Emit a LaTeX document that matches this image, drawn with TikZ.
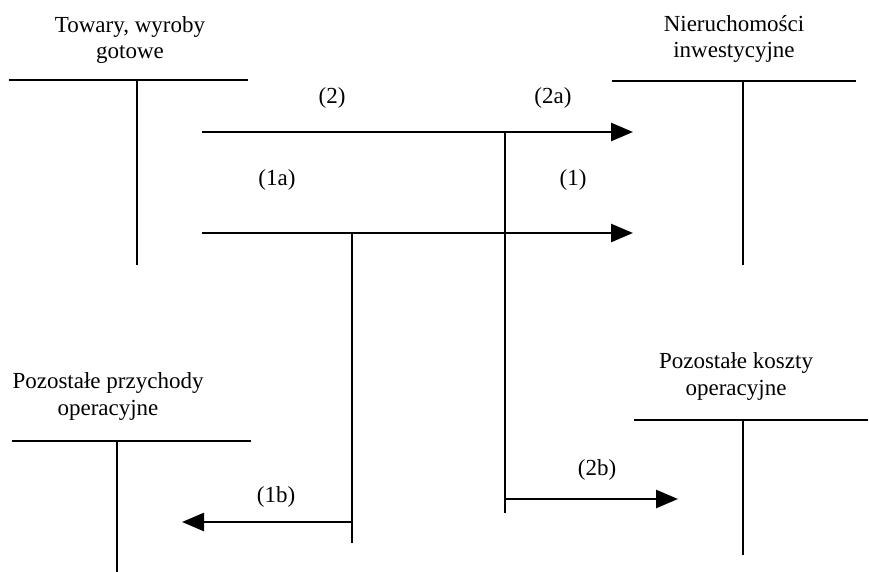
\documentclass[tikz,border=0pt]{standalone}
\usepackage{fontspec}
\setmainfont{Liberation Serif}
\usetikzlibrary{arrows.meta}
\begin{document}
\begin{tikzpicture}[x=1pt,y=-1pt,
  line width=2.6pt,
  title/.style={anchor=base, inner sep=0pt, font=\fontsize{23}{27}\selectfont},
  lbl/.style={inner sep=0pt, font=\fontsize{23}{27}\selectfont},
  flow/.style={-{Triangle[length=22pt,width=18pt]}}]
\useasboundingbox (0,0) rectangle (869,572);

% account: Towary, wyroby gotowe
\node[title] (twA) at (130,33) {Towary, wyroby};
\node[title] (twB) at (130,59) {gotowe};
\coordinate (twL) at (9,80);
\coordinate (twR) at (248,80);
\coordinate (twT) at (137,80);
\coordinate (twD) at (137,265);
\draw (twL) -- (twR);
\draw (twT) -- (twD);

% account: Nieruchomości inwestycyjne
\node[title] (niA) at (734,32) {Nieruchomości};
\node[title] (niB) at (734,58) {inwestycyjne};
\coordinate (niL) at (612,81);
\coordinate (niR) at (856,81);
\coordinate (niT) at (743,81);
\coordinate (niD) at (743,265);
\draw (niL) -- (niR);
\draw (niT) -- (niD);

% account: Pozostałe przychody operacyjne
\node[title] (ppA) at (108,388) {Pozostałe przychody};
\node[title] (ppB) at (108,415) {operacyjne};
\coordinate (ppL) at (12,441);
\coordinate (ppR) at (251,441);
\coordinate (ppT) at (117,441);
\coordinate (ppD) at (117,572);
\draw (ppL) -- (ppR);
\draw (ppT) -- (ppD);

% account: Pozostałe koszty operacyjne
\node[title] (pkA) at (736,368) {Pozostałe koszty};
\node[title] (pkB) at (736,395) {operacyjne};
\coordinate (pkL) at (634,420);
\coordinate (pkR) at (868,420);
\coordinate (pkT) at (743,420);
\coordinate (pkD) at (743,555);
\draw (pkL) -- (pkR);
\draw (pkT) -- (pkD);

% entry (2): split into (2a) and (2b)
\coordinate (e2s) at (202,132);
\coordinate (e2e) at (633,132);
\coordinate (e2v) at (505,132);
\coordinate (e2d) at (505,513);
\coordinate (e2b) at (505,499);
\coordinate (e2t) at (678,499);
\draw[flow] (e2s) -- (e2e);
\draw (e2v) -- (e2d);
\draw[flow] (e2b) -- (e2t);
\node[lbl] (l2)  at (332,98)  {(2)};
\node[lbl] (l2a) at (553,98)  {(2a)};
\node[lbl] (l2b) at (597,470) {(2b)};

% entry (1): split into (1a) and (1b)
\coordinate (e1s) at (202,233);
\coordinate (e1e) at (633,233);
\coordinate (e1v) at (352,233);
\coordinate (e1d) at (352,543);
\coordinate (e1b) at (352,522);
\coordinate (e1t) at (182,522);
\draw[flow] (e1s) -- (e1e);
\draw (e1v) -- (e1d);
\draw[flow] (e1b) -- (e1t);
\node[lbl] (l1a) at (277,180) {(1a)};
\node[lbl] (l1)  at (573,180) {(1)};
\node[lbl] (l1b) at (276,497) {(1b)};
\end{tikzpicture}
\end{document}
